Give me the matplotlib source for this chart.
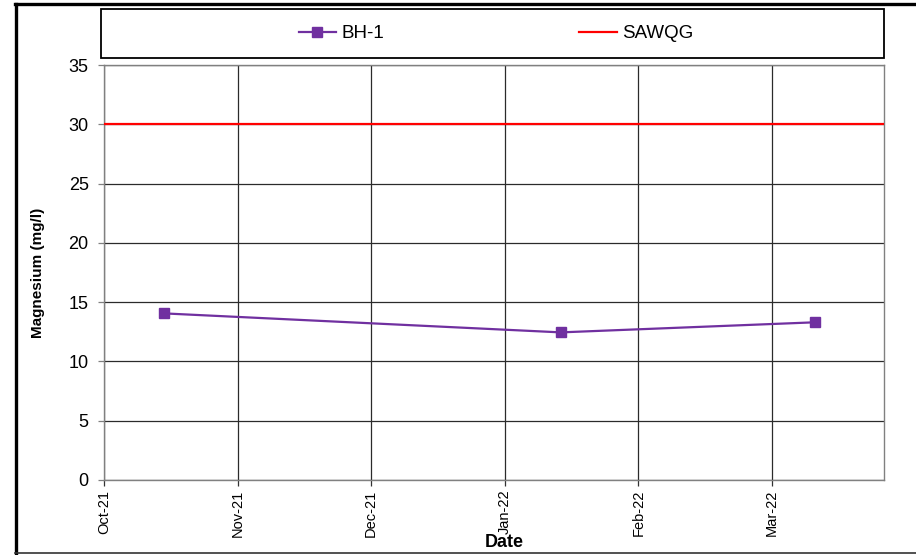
import datetime as dt
import matplotlib
matplotlib.use("Agg")
import matplotlib.pyplot as plt
import matplotlib.dates as mdates
from matplotlib.lines import Line2D
from matplotlib.patches import Rectangle

plt.rcParams["font.family"] = ["Liberation Sans", "DejaVu Sans"]

# Borehole BH-1 magnesium results
sample_dates = [dt.date(2021, 10, 15), dt.date(2022, 1, 15), dt.date(2022, 3, 15)]
bh1_mg = [14.05, 12.45, 13.3]

# Guideline limit
sawqg_limit = 30

series_names = ["BH-1", "SAWQG"]
y_ticks = [0, 5, 10, 15, 20, 25, 30, 35]
x_start = dt.date(2021, 10, 1)
x_end = dt.date(2022, 3, 31)
tick_step_days = 31

W, H = 916, 555
fig = plt.figure(figsize=(W / 100, H / 100), dpi=100)

# outer frame lines
fig.add_artist(Line2D([16 / W, 16 / W], [1 - 4 / H, 1 - 553 / H], color="black", lw=2.4,
                      transform=fig.transFigure))
fig.add_artist(Line2D([15 / W, 1], [1 - 4 / H, 1 - 4 / H], color="black", lw=2.4,
                      transform=fig.transFigure))
fig.add_artist(Line2D([15 / W, 1], [1 - 553 / H, 1 - 553 / H], color="#333333", lw=1.2,
                      transform=fig.transFigure))

ax = fig.add_axes([104 / W, 1 - 480 / H, (884 - 104) / W, (480 - 65) / H])

purple = "#7030A0"
ax.plot(sample_dates, bh1_mg, color=purple, lw=1.6, marker="s", markersize=6.8,
        markerfacecolor=purple, markeredgecolor=purple, zorder=4, label=series_names[0])
ax.axhline(sawqg_limit, color="#FF0000", lw=1.6, zorder=3, label=series_names[1])

ax.set_xlim(mdates.date2num(x_start), mdates.date2num(x_end))
ax.set_ylim(0, 35)
ax.set_yticks(y_ticks)

ticks = []
d = x_start
while d <= x_end:
    ticks.append(mdates.date2num(d))
    d = d + dt.timedelta(days=tick_step_days)
ax.set_xticks(ticks)
ax.xaxis.set_major_formatter(mdates.DateFormatter("%b-%y"))
for lbl in ax.get_xticklabels():
    lbl.set_rotation(90)

ax.grid(True, color="#2b2b2b", lw=0.9)
ax.set_axisbelow(True)
for s in ax.spines.values():
    s.set_color("#808080")
    s.set_linewidth(1.0)

ax.tick_params(axis="y", labelsize=13, length=4, width=0.9, color="#808080", pad=7)
ax.tick_params(axis="x", labelsize=10.5, length=4, width=0.9, color="#333333", pad=3)

ax.set_ylabel("Magnesium (mg/l)", fontsize=11, fontweight="bold", labelpad=14)
ax.yaxis.set_label_coords(-0.076, 0.5)
ax.set_xlabel("Date", fontsize=13, fontweight="bold", labelpad=0)
ax.xaxis.set_label_coords(0.513, -0.131)

# legend box
fig.add_artist(Rectangle((101 / W, 1 - 58 / H), (884 - 101) / W, (58 - 9) / H,
                         transform=fig.transFigure, facecolor="white", edgecolor="black",
                         lw=1.3, zorder=1))
handles, labels = ax.get_legend_handles_labels()
fig.legend(handles, labels, loc="center", bbox_to_anchor=((101 + 884) / 2 / W + 0.004, 1 - 33.5 / H),
           ncol=2, frameon=False, fontsize=13.5, handlelength=2.0, handletextpad=0.3,
           columnspacing=10.4)

fig.savefig("out.png", dpi=100)
